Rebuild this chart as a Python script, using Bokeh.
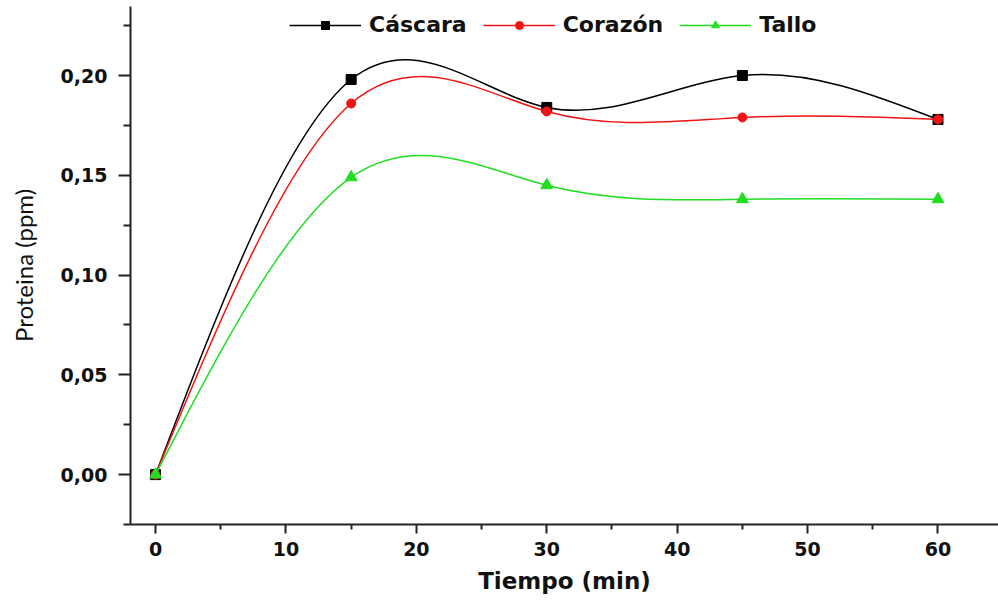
import numpy as np
from bokeh.plotting import figure
from bokeh.models import (Range1d, FixedTicker, CustomJSTickFormatter, Legend, LegendItem,
                          ColumnDataSource)
from bokeh.embed import file_html
from bokeh.resources import INLINE

# ---- data ----
tiempo = [0, 15, 30, 45, 60]
cascara = [0.0, 0.198, 0.184, 0.200, 0.178]
corazon = [0.0, 0.186, 0.182, 0.179, 0.178]
tallo = [0.0, 0.149, 0.145, 0.138, 0.138]
series_names = ["Cáscara", "Corazón", "Tallo"]
series_colors = ["#000000", "#f01414", "#22dd22"]
series_markers = ["square", "circle", "triangle"]
series_sizes = [10, 9, 12]
x_ticks = [0, 10, 20, 30, 40, 50, 60]
x_minor = [5, 15, 25, 35, 45, 55]
y_ticks = [0.0, 0.05, 0.10, 0.15, 0.20]
y_minor = [-0.025, 0.025, 0.075, 0.125, 0.175, 0.225]
x_title = "Tiempo (min)"
y_title = "Proteina (ppm)"


def natural_spline_bezier(x, y):
    """Natural cubic spline through (x, y), returned as cubic bezier segments."""
    x = np.asarray(x, float)
    y = np.asarray(y, float)
    n = len(x)
    h = np.diff(x)
    d = np.diff(y) / h
    M = np.zeros(n)
    if n > 2:
        A = np.zeros((n - 2, n - 2))
        r = np.zeros(n - 2)
        for i in range(1, n - 1):
            k = i - 1
            A[k, k] = 2 * (h[i - 1] + h[i])
            if k > 0:
                A[k, k - 1] = h[i - 1]
            if k < n - 3:
                A[k, k + 1] = h[i]
            r[k] = 6 * (d[i] - d[i - 1])
        M[1:-1] = np.linalg.solve(A, r)
    s0 = d - h * (2 * M[:-1] + M[1:]) / 6
    s1 = d + h * (M[:-1] + 2 * M[1:]) / 6
    return dict(
        x0=x[:-1], y0=y[:-1], x1=x[1:], y1=y[1:],
        cx0=x[:-1] + h / 3, cy0=y[:-1] + h / 3 * s0,
        cx1=x[1:] - h / 3, cy1=y[1:] - h / 3 * s1,
    )


p = figure(width=998, height=601, output_backend="svg", toolbar_location=None,
           x_range=Range1d(-1.92, 64.64), y_range=Range1d(-0.025, 0.2346),
           min_border_left=130, min_border_right=0, min_border_top=6, min_border_bottom=77)
p.outline_line_color = None
p.xgrid.visible = False
p.ygrid.visible = False

items = []
for name, vals, col, mk, sz in zip(series_names, [cascara, corazon, tallo],
                                   series_colors, series_markers, series_sizes):
    bz = natural_spline_bezier(tiempo, vals)
    p.bezier(source=ColumnDataSource(bz), x0="x0", y0="y0", x1="x1", y1="y1",
             cx0="cx0", cy0="cy0", cx1="cx1", cy1="cy1", line_color=col, line_width=1.5)
    # single-point line: draws nothing in the plot, only provides the legend line
    leg_line = p.line(x=tiempo[:1], y=vals[:1], line_color=col, line_width=1.5)
    sc = p.scatter(x=tiempo, y=vals, marker=mk, size=sz, fill_color=col, line_color=col)
    items.append(LegendItem(label=name, renderers=[leg_line, sc]))

legend = Legend(items=items, orientation="horizontal", location=(159, 487))
legend.border_line_color = None
legend.background_fill_alpha = 0
legend.padding = 0
legend.margin = 0
legend.spacing = 16
legend.glyph_width = 72
legend.glyph_height = 20
legend.label_standoff = 8
legend.label_text_font = "DejaVu Sans"
legend.label_text_font_style = "bold"
legend.label_text_font_size = "22px"
legend.label_text_color = "#111111"
p.add_layout(legend)

for ax in (p.xaxis[0], p.yaxis[0]):
    ax.axis_line_width = 2
    ax.axis_line_color = "#222222"
    ax.major_tick_line_width = 2
    ax.minor_tick_line_width = 2
    ax.major_tick_line_color = "#222222"
    ax.minor_tick_line_color = "#222222"
    ax.major_tick_in = 0
    ax.minor_tick_in = 0
    ax.major_label_text_font = "DejaVu Sans"
    ax.major_label_text_font_style = "bold"
    ax.major_label_text_font_size = "19px"
    ax.major_label_text_color = "#111111"

p.xaxis[0].major_tick_out = 9
p.xaxis[0].minor_tick_out = 5
p.yaxis[0].major_tick_out = 12
p.yaxis[0].minor_tick_out = 7

p.xaxis[0].ticker = FixedTicker(ticks=x_ticks, minor_ticks=x_minor)
p.yaxis[0].ticker = FixedTicker(ticks=y_ticks, minor_ticks=y_minor)
p.yaxis[0].formatter = CustomJSTickFormatter(code="return tick.toFixed(2).replace('.', ',')")
p.xaxis[0].major_label_standoff = 8
p.yaxis[0].major_label_standoff = 11

p.xaxis[0].axis_label = x_title
p.xaxis[0].axis_label_text_font = "DejaVu Sans"
p.xaxis[0].axis_label_text_font_style = "bold"
p.xaxis[0].axis_label_text_font_size = "23px"
p.xaxis[0].axis_label_text_color = "#111111"
p.xaxis[0].axis_label_standoff = 9

p.yaxis[0].axis_label = y_title
p.yaxis[0].axis_label_text_font = "Lato"
p.yaxis[0].axis_label_text_font_style = "normal"
p.yaxis[0].axis_label_text_font_size = "24px"
p.yaxis[0].axis_label_text_color = "#111111"
p.yaxis[0].axis_label_standoff = 20

open("out.html", "w").write(file_html(p, INLINE))
